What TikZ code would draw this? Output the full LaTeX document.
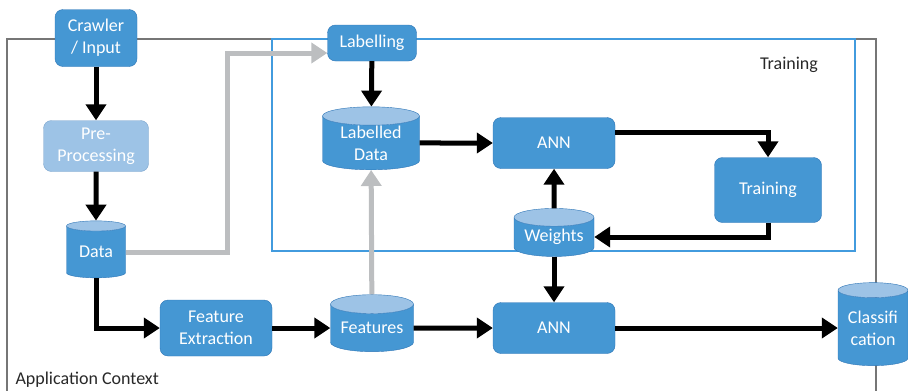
\documentclass[tikz,border=0pt]{standalone}
\usepackage{fontspec}
\setmainfont{Carlito}
\usetikzlibrary{arrows.meta,shapes.geometric}
\definecolor{boxblue}{RGB}{69,151,211}
\definecolor{edgeblue}{RGB}{46,117,182}
\definecolor{lightblue}{RGB}{157,195,230}
\definecolor{lightedge}{RGB}{125,165,205}
\definecolor{frameblue}{RGB}{66,155,222}
\definecolor{framegray}{RGB}{118,118,118}
\definecolor{flowgray}{RGB}{188,190,192}
\definecolor{labeltext}{RGB}{40,40,40}

\begin{document}
\begin{tikzpicture}
  [x=1pt,y=-1pt,font=\fontsize{18}{22}\selectfont,
   box/.style={rectangle,rounded corners=8pt,draw=edgeblue,fill=boxblue,text=white,align=center,inner sep=0pt},
   tank/.style={cylinder,shape border rotate=90,aspect=0.3,draw=edgeblue,cylinder uses custom fill,
     cylinder body fill=boxblue,cylinder end fill=lightblue,text=white,align=center,inner sep=0pt},
   flow/.style={line width=5pt,-{Triangle[length=16pt,width=20pt]}},
   feed/.style={flow,draw=flowgray}]
  \useasboundingbox (0,0) rectangle (908,391);

  % context frames
  \draw[framegray,line width=1.5pt] (7,391) -- (7,39) -- (876,39) -- (876,391);
  \draw[frameblue,line width=2pt] (272,39) rectangle (855,251);
  \node[anchor=west,text=labeltext] (appctx) at (12,380) {Application Context};
  \node[text=labeltext] (trainlbl) at (789,65) {Training};

  \node[box,minimum width=82pt,minimum height=57pt] (crawler) at (96,38) {Crawler\\/ Input};
  \node[box,fill=lightblue,draw=lightedge,minimum width=105pt,minimum height=51pt] (pre) at (96,146) {Pre-\\Processing};
  \node[tank,minimum width=59pt,minimum height=57pt] (data) at (96,252) {Data};
  \node[box,minimum width=112pt,minimum height=56pt] (featext) at (216,328) {Feature\\Extraction};
  \node[tank,minimum width=83pt,minimum height=57pt] (features) at (372,328) {Features};
  \node[box,minimum width=122pt,minimum height=51pt] (ann2) at (554,328) {ANN};
  \node[tank,minimum width=70pt,minimum height=83pt] (classif) at (873,328) {Classifi\\cation};

  \node[box,minimum width=89pt,minimum height=36pt] (labelling) at (372,43) {Labelling};
  \node[tank,minimum width=97pt,minimum height=63pt] (ldata) at (371,143) {Labelled\\Data};
  \node[box,minimum width=122pt,minimum height=51pt] (ann1) at (554,143) {ANN};
  \node[box,minimum width=107pt,minimum height=65pt] (train) at (768,190) {Training};
  \node[tank,minimum width=80pt,minimum height=48pt] (weights) at (554,237) {Weights};

  \foreach \from/\to in {crawler/pre,pre/data,featext/features,features/ann2,ann2/classif,
                         weights/ann2,weights/ann1,labelling/ldata,ldata/ann1}
    \draw[flow] (\from) -- (\to);

  \draw[flow] (data.south) |- (featext.west);
  \draw[flow] ([yshift=11pt]ann1.east) -| (train.north);
  \draw[flow] (train.south) |- (weights.east);

  \coordinate (bend) at (227,53);
  \draw[feed] (data.east) -| (bend) -- ([yshift=-10pt]labelling.west);
  \draw[feed] (features) -- (ldata);

\end{tikzpicture}
\end{document}
